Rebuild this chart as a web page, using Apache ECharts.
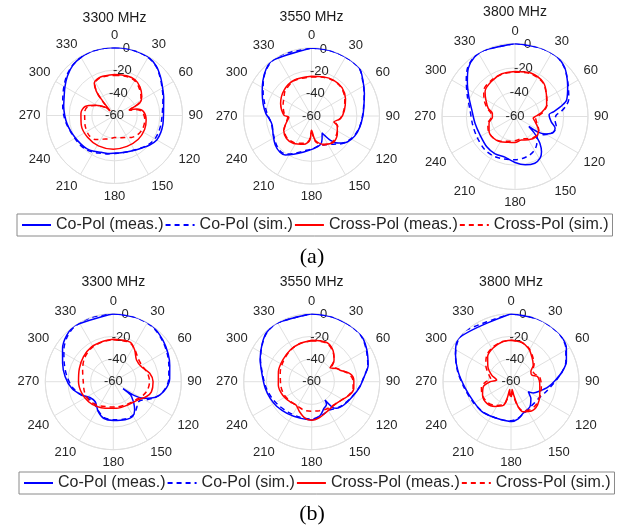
<!DOCTYPE html>
<html>
<head>
<meta charset="utf-8">
<script src="https://cdn.jsdelivr.net/npm/echarts@6.0.0/dist/echarts.min.js"></script>
<style>
  html, body { margin: 0; background: #fff; }
  #chart { width: 617px; height: 532px; }
</style>
</head>
<body>
<div id="chart"></div>
<script>
const freqTitles = ['3300 MHz', '3550 MHz', '3800 MHz'];
const legendNames = ['Co-Pol (meas.)', 'Co-Pol (sim.)', 'Cross-Pol (meas.)', 'Cross-Pol (sim.)'];
const panelLabels = ['(a)', '(b)'];

// each point is [angle in degrees, level in dB]
const a3300CoMeas = [[0,0],[10,0],[20,-0.2],[30,-0.4],[40,-2.8],[50,-7],[60,-11],[70,-13.8],[80,-16],[90,-16.8],[100,-16.6],[110,-16.5],[120,-16.9],[130,-19.5],[140,-22.5],[150,-24.6],[160,-26],[170,-26.7],[180,-26.8],[190,-26],[200,-25.4],[210,-23.5],[220,-21.8],[230,-21.1],[240,-20.2],[250,-19],[260,-17.5],[270,-16.1],[280,-14.5],[290,-12.7],[300,-9.5],[310,-5.8],[320,-2.5],[330,-0.8],[340,0],[350,0],[360,0]];
const a3300CoSim = [[0,0],[10,0],[20,-0.3],[30,-0.8],[40,-3.2],[50,-7.5],[60,-11.5],[70,-14.5],[80,-16.8],[90,-18],[100,-18.3],[110,-18.4],[120,-18.8],[130,-20.5],[140,-22.8],[150,-24.8],[160,-26],[170,-26.5],[180,-26.5],[190,-25.6],[200,-24.6],[210,-22.6],[220,-20.8],[230,-20],[240,-19.6],[250,-18.7],[260,-17],[270,-15.3],[280,-13.6],[290,-11.5],[300,-8.5],[310,-5],[320,-2.3],[330,-0.8],[340,0],[350,0],[360,0]];
const a3300XMeas = [[0,-23.8],[17,-23.4],[30,-23.6],[42,-26.3],[55,-30.6],[64,-35.4],[67,-43.4],[70,-46.5],[74,-39.5],[82,-34.2],[98,-31.8],[115,-30.7],[135,-30.3],[158,-30.6],[182,-30.3],[208,-29.7],[231,-29.4],[254,-29.5],[274,-30.3],[287,-32.9],[298,-40.6],[312,-49],[317,-54.4],[321,-42.3],[323,-33.4],[328,-26.3],[340,-23.9],[360,-23.8]];
const a3300XSim = [[0,-24.5],[17,-24],[30,-24.5],[42,-27.5],[55,-31.5],[63,-36],[67,-43],[71,-45.5],[76,-39],[84,-35],[98,-33],[115,-32.5],[130,-33.5],[142,-35.5],[155,-38.5],[168,-40],[180,-40.5],[192,-39],[205,-37],[218,-33],[232,-31.5],[250,-32.5],[262,-33.5],[276,-33.5],[288,-35],[298,-41],[311,-49],[316,-54],[320,-43],[323,-34],[328,-27],[340,-24.3],[360,-24.5]];

const a3550CoMeas = [[0,0],[15,0],[30,0],[45,-0.3],[55,-4.7],[67,-9.3],[80,-13.1],[90,-14.7],[103,-16.3],[115,-18],[126,-21],[135,-26.2],[142,-32.8],[146,-39.4],[148,-42.3],[155,-37.9],[162,-33.8],[176,-31.2],[192,-27.6],[205,-22.8],[214,-18.5],[221,-17.6],[231,-19],[243,-22.1],[257,-24.4],[265,-23.1],[273,-19.7],[284,-16],[296,-11.6],[306,-7],[316,-2.4],[325,0],[360,0]];
const a3550CoSim = [[0,0],[15,0],[30,0],[45,-0.5],[55,-5],[67,-9.5],[80,-13.3],[90,-15],[103,-16.5],[115,-18.5],[126,-21.5],[135,-25],[142,-28.5],[150,-31],[158,-32.5],[165,-33],[176,-31.5],[192,-28.5],[205,-23.5],[214,-19.5],[221,-18.5],[231,-20],[243,-22.5],[257,-24],[265,-23],[273,-20.8],[284,-17.5],[296,-12.5],[306,-7.5],[316,-2.8],[325,-0.3],[335,0],[360,0]];
const a3550XMeas = [[0,-25],[17,-23.9],[32,-22.9],[47,-23.2],[63,-26.3],[80,-30.5],[95,-34.3],[105,-39.6],[110,-35.9],[124,-32.5],[139,-29.8],[156,-32.7],[171,-38.2],[180,-47.4],[184,-38.5],[195,-34.1],[213,-31],[228,-30.3],[243,-32.5],[256,-37.3],[267,-40],[272,-35.6],[292,-30.6],[313,-26.8],[334,-24.9],[360,-25]];
const a3550XSim = [[0,-25.5],[17,-24.3],[32,-23.3],[47,-23.8],[63,-27],[80,-31],[95,-34.5],[105,-38],[112,-35],[124,-33],[139,-30.5],[156,-32],[171,-37],[180,-45],[186,-38],[195,-35],[213,-32],[228,-31],[243,-33],[256,-37],[267,-39],[274,-36],[292,-33],[305,-30.5],[313,-28],[334,-25.2],[360,-25.5]];

const a3800CoMeas = [[0,0],[20,0],[35,0],[45,-2.5],[52,-6],[60,-10],[72,-15.3],[77,-20.6],[83,-28.2],[87,-32],[98,-30],[106,-25.7],[113,-25.9],[119,-30.4],[124,-36.7],[125.5,-46],[130,-40],[133,-36],[137,-30],[143,-23.8],[149,-20],[157,-18.3],[168,-19.4],[180,-22.2],[194,-25.6],[208,-25.2],[223,-26],[242,-27.5],[260,-26.7],[279,-24],[293,-18.8],[306,-11.6],[316,-4.8],[326,-0.8],[335,0],[360,0]];
const a3800CoSim = [[0,0],[20,0],[35,0],[45,-2.8],[52,-6],[60,-9.5],[72,-13.5],[78,-17],[84,-22],[88,-26],[95,-27],[104,-25],[112,-26],[118,-29],[124,-33],[130,-36],[136,-34],[142,-31],[150,-28],[160,-26],[170,-25],[180,-24.5],[194,-24],[208,-23],[223,-23.2],[242,-24.5],[260,-24.5],[279,-22.5],[293,-17.5],[306,-10.5],[316,-4],[326,-0.5],[335,0],[360,0]];
const a3800XMeas = [[0,-23],[20,-22],[40,-23.6],[55,-28.5],[70,-32.3],[80,-37.2],[88,-42.2],[95,-45],[105,-42.8],[120,-37.6],[135,-36],[150,-37.9],[165,-40],[180,-38.6],[195,-38],[210,-36],[226,-34.8],[241,-35.6],[256,-38],[268,-41.4],[278,-41.2],[287,-37],[300,-32.3],[310,-27.9],[326,-25.2],[343,-23.3],[360,-23]];
const a3800XSim = [[0,-23.5],[20,-22.5],[40,-24],[55,-28.5],[70,-32],[80,-36],[88,-40.5],[95,-43],[105,-41.5],[120,-37.5],[135,-36.5],[150,-39],[165,-41],[180,-40],[195,-39],[210,-36.5],[226,-35],[241,-35],[256,-37],[268,-40.5],[278,-40],[287,-36],[300,-30.5],[310,-26.5],[326,-24.5],[343,-23.5],[360,-23.5]];

const b3300CoMeas = [[0,0],[19,0],[35,0],[50,-2.9],[63,-5.7],[74,-8.2],[87,-10.2],[97,-12.9],[106,-17.4],[113,-23.3],[119,-30],[123,-37],[125,-49.5],[127,-41],[131,-38],[136,-34],[143,-28.7],[151,-24.9],[163,-24.9],[180,-25.8],[195,-26.6],[207,-30.6],[222,-36.2],[236,-35.1],[247,-29.8],[261,-22.9],[276,-17.3],[290,-12.4],[303,-6.6],[315,-2],[326,0],[360,0]];
const b3300CoSim = [[0,0],[19,0],[35,-0.5],[50,-3.5],[63,-6.5],[74,-9],[87,-11],[97,-13.5],[106,-17.5],[113,-22.5],[119,-27],[125,-31],[131,-31.5],[137,-29.5],[143,-27.5],[151,-25.5],[163,-25.5],[180,-26.5],[195,-27.5],[207,-31],[222,-34.5],[236,-33.5],[247,-29.5],[261,-24],[276,-19],[290,-14],[303,-8],[315,-3],[326,-0.5],[340,0],[360,0]];
const b3300XMeas = [[0,-22.5],[23,-22],[34,-26.3],[47,-32],[62,-31.9],[77,-27],[90,-24.9],[105,-25.2],[114,-27.9],[126,-32.8],[147,-35.7],[173,-36.4],[197,-35.5],[214,-33.7],[231,-31.9],[250,-30.4],[270,-29.3],[291,-27.9],[310,-25.7],[328,-23.8],[346,-23.2],[360,-22.5]];
const b3300XSim = [[0,-23],[22,-22.5],[34,-26],[47,-30],[60,-31],[75,-29],[90,-28],[104,-29],[114,-31],[126,-34],[147,-36.5],[173,-37.5],[197,-37],[214,-35],[231,-33],[250,-33],[270,-33.5],[291,-31],[310,-27],[328,-24.5],[346,-23.5],[360,-23]];

const b3550CoMeas = [[0,0],[17,0],[32,0],[46,0],[59,-3.5],[74,-8.2],[83,-12.8],[96,-17.3],[110,-21.7],[126,-25],[137,-27.9],[141,-31],[144,-40],[147,-36],[155,-34.2],[166,-29.3],[180,-26.3],[198,-26.2],[218,-24.6],[235,-22.2],[248,-20.6],[262,-18.6],[278,-15.8],[294,-10.2],[308,-4.7],[318,-1],[330,0],[360,0]];
const b3550CoSim = [[0,0],[17,0],[32,0],[46,-0.3],[59,-4],[74,-8.5],[83,-13],[96,-17.5],[110,-22],[126,-25.5],[137,-28],[145,-30],[152,-30.5],[160,-29.5],[168,-28.5],[180,-27],[198,-27],[218,-26],[235,-24],[248,-22],[262,-19.5],[278,-16.3],[294,-10.5],[308,-5],[318,-1.2],[330,0],[360,0]];
const b3550XMeas = [[0,-23.4],[21,-23],[34,-26.5],[46,-32.6],[53,-39.7],[62,-35],[68,-33],[78,-25.5],[88,-22.8],[99,-22.4],[109,-24.4],[119,-28.3],[134,-31.3],[153,-30.4],[170,-27.1],[180,-25.9],[190,-27.1],[202,-31.4],[214,-35.2],[227,-34],[245,-31.8],[264,-30.4],[287,-29.3],[307,-28.1],[326,-26.2],[343,-24.8],[360,-23.4]];
const b3550XSim = [[0,-23.8],[21,-23.5],[34,-27],[46,-32.5],[54,-38],[62,-35],[70,-31.5],[78,-26.5],[88,-23.5],[99,-23],[109,-25],[119,-28.5],[134,-31.5],[150,-32.5],[165,-33.5],[180,-34],[195,-34],[210,-35],[227,-34.5],[245,-33],[264,-32.5],[287,-31],[307,-29],[326,-26.5],[343,-24.8],[360,-23.8]];

const b3800CoMeas = [[0,0],[22,0],[35,0],[47,0],[59,-3],[70,-8],[79,-14],[88,-20.8],[98,-26.9],[108,-33.3],[117,-38],[120,-42.4],[125,-40],[130,-37.1],[143,-32.3],[159,-30.1],[169,-26.6],[179,-24.9],[194,-25.4],[209,-24.9],[224,-23.2],[242,-22.6],[262,-19.2],[281,-12.4],[296,-5.5],[309,0],[360,0]];
const b3800CoSim = [[0,0],[22,0],[35,0],[47,-0.3],[59,-3.5],[70,-8.5],[79,-14],[88,-20],[98,-25],[108,-28.5],[118,-31],[128,-32],[140,-32],[150,-31],[160,-29.5],[170,-27],[180,-25.5],[194,-25.5],[209,-25],[224,-23.5],[242,-22],[262,-18.5],[281,-12],[296,-5.5],[309,-0.5],[320,0],[360,0]];
const b3800XMeas = [[0,-23.4],[15,-24.1],[28,-26.8],[40,-31.4],[53,-35.4],[63,-40.3],[72,-40.9],[79,-36.2],[97,-34.4],[115,-32],[131,-28.9],[145,-28.5],[158,-31.5],[164,-37],[168,-47],[172,-53],[178,-47],[184,-48],[189,-53],[193,-45],[198,-38],[213,-34],[228,-31.4],[245,-32.3],[260,-35.3],[270,-41.6],[277,-47.3],[289,-42],[303,-35.7],[317,-29.8],[332,-26.3],[348,-24],[360,-23.4]];
const b3800XSim = [[0,-23.5],[15,-24],[28,-26.5],[40,-30.5],[53,-34.5],[63,-38.5],[72,-38],[80,-34.5],[97,-33],[115,-31.5],[131,-30],[145,-30],[158,-32.5],[165,-38],[170,-47],[174,-51],[180,-47],[186,-50],[191,-46],[197,-39],[213,-35],[228,-32.5],[245,-32],[260,-33.5],[270,-38],[277,-42],[289,-39],[303,-33.5],[317,-28.5],[332,-25.5],[348,-23.8],[360,-23.5]];

const panels = [
  {title: freqTitles[0], cx: 114.5, cy: 115.5, r: 68, ty: 19, curves: [a3300CoMeas, a3300CoSim, a3300XMeas, a3300XSim]},
  {title: freqTitles[1], cx: 311.5, cy: 116, r: 68, ty: 18, curves: [a3550CoMeas, a3550CoSim, a3550XMeas, a3550XSim]},
  {title: freqTitles[2], cx: 515, cy: 116.5, r: 73, ty: 13, curves: [a3800CoMeas, a3800CoSim, a3800XMeas, a3800XSim]},
  {title: freqTitles[0], cx: 113.3, cy: 381.7, r: 68, ty: 283, curves: [b3300CoMeas, b3300CoSim, b3300XMeas, b3300XSim]},
  {title: freqTitles[1], cx: 311.7, cy: 381.7, r: 68, ty: 283, curves: [b3550CoMeas, b3550CoSim, b3550XMeas, b3550XSim]},
  {title: freqTitles[2], cx: 511, cy: 381.7, r: 68, ty: 283, curves: [b3800CoMeas, b3800CoSim, b3800XMeas, b3800XSim]}
];

const lineLook = [
  {color: '#0000ff', type: 'solid'},
  {color: '#0000ff', type: [5, 4]},
  {color: '#ff0000', type: 'solid'},
  {color: '#ff0000', type: [5, 4]}
];
const font = 'Liberation Sans, Arial, sans-serif';
const txt = '#262626';
const gridCol = '#e0e0e0';

const option = {
  animation: false,
  backgroundColor: '#fff',
  textStyle: {fontFamily: font},
  title: [], legend: [], polar: [], angleAxis: [], radiusAxis: [], series: []
};

panels.forEach((p, i) => {
  const main = 2 * i, over = 2 * i + 1;
  option.polar.push({center: [p.cx, p.cy], radius: p.r}, {center: [p.cx, p.cy], radius: p.r});
  option.angleAxis.push({
    polarIndex: main, type: 'value', min: 0, max: 360, interval: 30,
    startAngle: 90, clockwise: true,
    axisLine: {lineStyle: {color: gridCol, width: 1}},
    axisTick: {show: false},
    axisLabel: {margin: 6, fontSize: 13, color: txt, fontFamily: font},
    splitLine: {lineStyle: {color: gridCol, width: 1}}
  }, {
    // only there so the dB labels sit along a slanted spoke
    polarIndex: over, type: 'value', min: 0, max: 360, startAngle: 80, show: false
  });
  option.radiusAxis.push({
    polarIndex: main, type: 'value', min: -60, max: 0, interval: 20,
    axisLine: {show: false}, axisTick: {show: false}, axisLabel: {show: false},
    splitLine: {lineStyle: {color: gridCol, width: 1}}
  }, {
    polarIndex: over, type: 'value', min: -60, max: 0, interval: 20,
    axisLine: {show: false}, axisTick: {show: false}, splitLine: {show: false},
    axisLabel: {margin: 0, align: 'center', verticalAlign: 'middle', fontSize: 13, color: txt, fontFamily: font}
  });
  p.curves.forEach((c, k) => {
    option.series.push({
      name: legendNames[k],
      type: 'line',
      coordinateSystem: 'polar',
      polarIndex: main,
      data: c.map(d => [d[1], d[0]]),
      symbol: 'none',
      smooth: 0.3,
      clip: false,
      lineStyle: {color: lineLook[k].color, type: lineLook[k].type, width: 1.5},
      itemStyle: {color: lineLook[k].color},
      z: 3 + k
    });
  });
  option.title.push({
    text: p.title, left: p.cx, top: p.ty - 8, textAlign: 'center', padding: 0,
    textStyle: {fontSize: 14, fontWeight: 'normal', color: '#1a1a1a', fontFamily: font}
  });
});

[{lab: panelLabels[0], y: 258, ly: 214, lx: 17}, {lab: panelLabels[1], y: 515, ly: 472, lx: 19}].forEach(g => {
  option.title.push({
    text: g.lab, left: 312, top: g.y - 12, textAlign: 'center', padding: 0,
    textStyle: {fontSize: 22, fontWeight: 'normal', color: '#000', fontFamily: 'Liberation Serif, Times New Roman, serif'}
  });
  option.legend.push({
    data: legendNames, left: g.lx, top: g.ly, orient: 'horizontal',
    itemWidth: 29, itemHeight: 14, itemGap: 1, padding: [3, 4],
    borderColor: '#8a8a8a', borderWidth: 1,
    itemStyle: {opacity: 0},
    textStyle: {fontSize: 16, color: txt, fontFamily: font}
  });
});

const chart = echarts.init(document.getElementById('chart'), null, {renderer: 'canvas'});
chart.setOption(option);
</script>
</body>
</html>
